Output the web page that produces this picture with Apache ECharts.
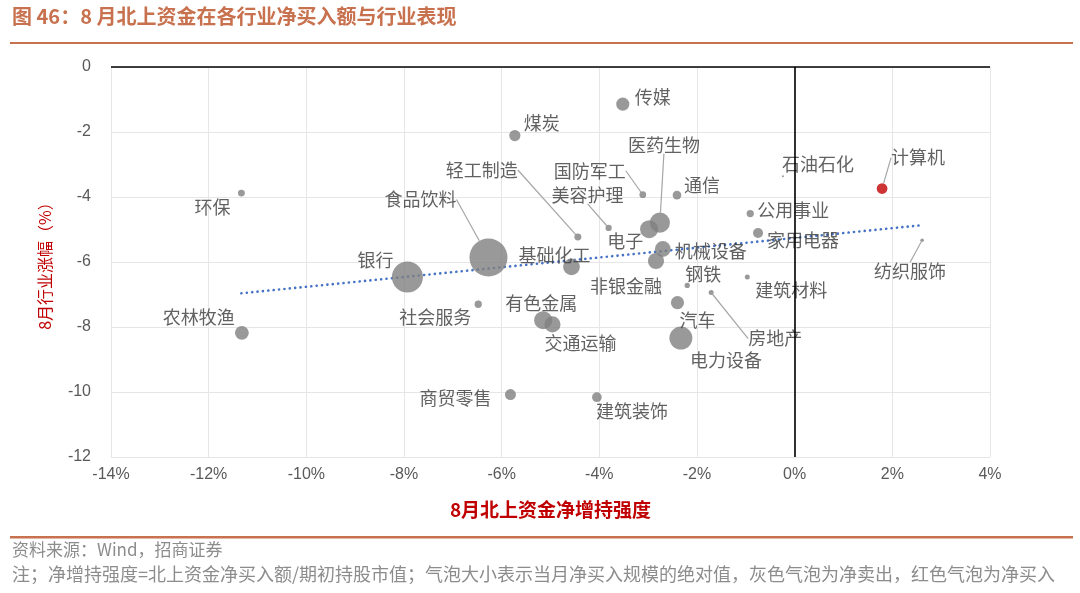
<!DOCTYPE html>
<html>
<head>
<meta charset="utf-8">
<script src="https://cdn.jsdelivr.net/npm/echarts@6/dist/echarts.min.js"></script>
<style>
html,body{margin:0;padding:0;background:#ffffff;}
#c{width:1080px;height:593px;}
</style>
</head>
<body>
<div id="c"></div>
<script>
// ---------- data ----------
const categories = ['传媒','煤炭','医药生物','轻工制造','国防军工','通信','石油石化','计算机','环保','食品饮料',
  '美容护理','公用事业','电子','家用电器','银行','基础化工','机械设备','纺织服饰','非银金融','钢铁',
  '建筑材料','农林牧渔','有色金属','社会服务','汽车','房地产','交通运输','电力设备','商贸零售','建筑装饰'];
// 8月北上资金净增持强度 (%)
const holdChange = [-3.52,-5.73,-2.76,-4.44,-3.11,-2.41,-0.24,1.79,-11.33,-6.27,
  -3.81,-0.91,-2.98,-0.75,-7.93,-4.57,-2.70,2.61,-2.84,-2.20,
  -0.97,-11.32,-5.15,-6.48,-2.40,-1.71,-4.96,-2.33,-5.82,-4.05];
// 8月行业涨幅 (%)
const industryReturn = [-1.14,-2.11,-4.79,-5.23,-3.93,-3.94,-3.36,-3.74,-3.88,-5.86,
  -4.95,-4.51,-4.99,-5.11,-6.46,-6.15,-5.60,-5.33,-5.97,-6.72,
  -6.46,-8.18,-7.79,-7.30,-7.25,-6.94,-7.92,-8.34,-10.08,-10.16];
// 当月北上资金净买入额 (亿元, 估计值; 负为净卖出)
const netBuy = [-18,-13,-42,-5,-4.7,-7.9,-0.4,12,-5,-150,
  -4.1,-5.5,-34,-10.4,-100,-29,-26,-1.3,-27,-2.9,
  -2.6,-20,-34,-5.5,-18,-2.6,-27,-55,-12.5,-9.8];
const xTicks = {min:-14, max:4, interval:2};
const yTicks = {min:-12, max:0, interval:2};

// ---------- label placement (style only) ----------
const labelOffsets = {
  '传媒':[30,-7],'煤炭':[27,-12],'医药生物':[4,-78],'轻工制造':[-96,-67],'国防军工':[-53,-24],
  '通信':[25,-10],'石油石化':[35,-12],'计算机':[36,-31],'环保':[-29,14],'食品饮料':[-68,-58],
  '美容护理':[-21,-33],'公用事业':[43,-3],'电子':[-24,12],'家用电器':[45,7],'银行':[-32,-17],
  '基础化工':[-17,-12],'机械设备':[48,2],'纺织服饰':[-12,31],'非银金融':[-30,25],'钢铁':[16,-11],
  '建筑材料':[44,13],'农林牧渔':[-43,-16],'有色金属':[-2,-17],'社会服务':[-43,13],'汽车':[20,18],
  '房地产':[64,46],'交通运输':[28,19],'电力设备':[45,22],'商贸零售':[-55,4],'建筑装饰':[35,14]
};
const leaderLabels = ['医药生物','轻工制造','国防军工','计算机','食品饮料','美容护理','纺织服饰','房地产'];

// ---------- trend line (OLS fit of the points) ----------
const n = holdChange.length;
const mx = holdChange.reduce((a,b)=>a+b,0)/n;
const my = industryReturn.reduce((a,b)=>a+b,0)/n;
let sxy = 0, sxx = 0;
for (let i=0;i<n;i++){ sxy += (holdChange[i]-mx)*(industryReturn[i]-my); sxx += (holdChange[i]-mx)**2; }
const slope = sxy/sxx, intercept = my - slope*mx;
const xLo = Math.min(...holdChange), xHi = Math.max(...holdChange);
const trendData = [[xLo, intercept+slope*xLo],[xHi, intercept+slope*xHi]];

const CJK = '"Noto Sans CJK SC","Noto Sans",sans-serif';
const LAT = '"Liberation Sans",Arial,sans-serif';
const ACCENT = '#C8714E';

const bubbleData = categories.map((c,i)=>({
  name: c,
  value: [holdChange[i], industryReturn[i], netBuy[i]],
  itemStyle: {color: netBuy[i] > 0 ? '#C00000' : '#7F7F7F'},
  labelLine: {show: leaderLabels.indexOf(c) >= 0}
}));

const chart = echarts.init(document.getElementById('c'), null, {renderer:'canvas'});
chart.setOption({
  animation: false,
  backgroundColor: '#ffffff',
  grid: {left:111, right:90, top:67, bottom:136, containLabel:false, outerBoundsMode:'none'},
  xAxis: {
    type:'value', min:xTicks.min, max:xTicks.max, interval:xTicks.interval,
    axisLine:{show:false}, axisTick:{show:false},
    axisLabel:{formatter:'{value}%', color:'#595959', fontSize:16, fontFamily:LAT, margin:10},
    splitLine:{show:true, lineStyle:{color:'#E6E6E6', width:1}},
    name:'8月北上资金净增持强度', nameLocation:'middle', nameGap:43,
    nameTextStyle:{color:'#C00000', fontSize:19, fontWeight:'bold', fontFamily:CJK}
  },
  yAxis: {
    type:'value', min:yTicks.min, max:yTicks.max, interval:yTicks.interval,
    axisLine:{show:false}, axisTick:{show:false},
    axisLabel:{color:'#595959', fontSize:16, fontFamily:LAT, margin:20},
    splitLine:{show:true, lineStyle:{color:'#E6E6E6', width:1}},
    name:'8月行业涨幅（%）', nameLocation:'middle', nameGap:58, nameRotate:90,
    nameTextStyle:{color:'#C00000', fontSize:16, fontFamily:CJK}
  },
  series: [
    {
      type:'line', data:trendData, symbol:'none', silent:true, z:3,
      lineStyle:{color:'#4472C4', width:2.6, type:[0.1,5.3], cap:'round'},
      markLine:{
        silent:true, symbol:['none','none'], label:{show:false}, animation:false,
        lineStyle:{color:'#000000', width:1.6, type:'solid'},
        data:[{xAxis:0},{yAxis:0}]
      }
    },
    {
      type:'scatter', data:bubbleData, z:4,
      symbolSize: function(v){ return 38*Math.sqrt(Math.abs(v[2])/150); },
      label:{show:true, formatter:'{b}', color:'#3A3A3A', fontSize:18, fontFamily:CJK},
      labelLine:{show:false, lineStyle:{color:'#A6A6A6', width:1.2}},
      labelLayout: function(p){
        const o = labelOffsets[categories[p.dataIndex]] || [0,0];
        const r = p.rect;
        return {x: r.x + r.width/2 + o[0], y: r.y + r.height/2 + o[1], align:'center', verticalAlign:'middle'};
      }
    }
  ],
  graphic: [
    {type:'text', left:12, top:6, style:{text:'图 46：8 月北上资金在各行业净买入额与行业表现', fill:ACCENT, fontSize:20, fontWeight:'bold', fontFamily:CJK}},
    {type:'rect', shape:{x:10, y:42, width:1063, height:2}, style:{fill:ACCENT}},
    {type:'rect', shape:{x:10, y:536, width:1063, height:2.5}, style:{fill:ACCENT}},
    {type:'text', left:12, top:541, style:{text:'资料来源：Wind，招商证券', fill:'#8C8C8C', fontSize:17, fontFamily:CJK}},
    {type:'text', left:12, top:565, style:{text:'注；净增持强度=北上资金净买入额/期初持股市值；气泡大小表示当月净买入规模的绝对值，灰色气泡为净卖出，红色气泡为净买入', fill:'#8C8C8C', fontSize:18, fontFamily:CJK}}
  ]
});
</script>
</body>
</html>
